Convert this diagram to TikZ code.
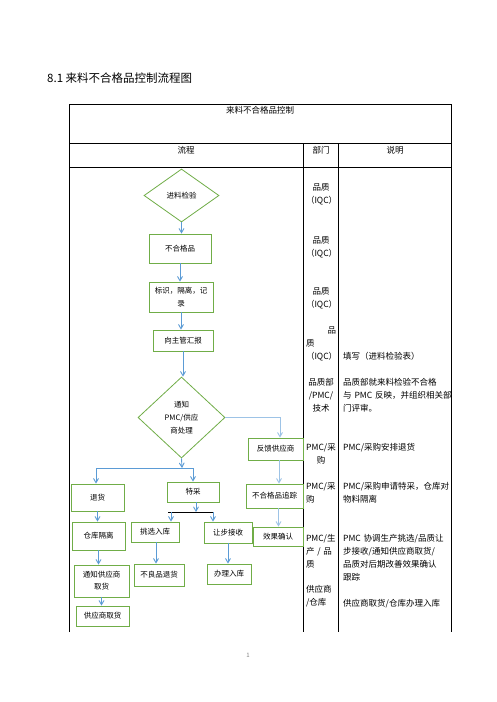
\documentclass[tikz,border=0pt]{standalone}
\usepackage{fontspec}
\setmainfont{Noto Sans CJK SC}
\usetikzlibrary{arrows,shapes.geometric}
\definecolor{boxgreen}{RGB}{112,173,71}
\definecolor{linkblue}{RGB}{91,155,213}
\definecolor{paleblue}{RGB}{157,195,230}

\begin{document}
\begin{tikzpicture}[x=1pt,y=-1pt,->,>=angle 60,
	main node/.style={draw=boxgreen,line width=0.8pt,font=\fontsize{7.5}{12}\selectfont,align=center,inner sep=0pt},
	main diamond/.style={main node,diamond},
	box size/.style 2 args={minimum width=#1,minimum height=#2},
	flow/.style={draw=linkblue,line width=0.9pt},
	cell text/.style={font=\fontsize{8.5}{13}\selectfont,inner sep=0pt},
	table line/.style={-,line width=1pt}]
\fill[white] (0,0) rectangle (496,702);
\useasboundingbox (0,0) rectangle (496,702);
% table
\draw[table line] (69,632) -- (69,104) -- (451,104) -- (451,632);
\draw[table line] (69,143) -- (451,143) (69,167) -- (451,167)
	(303,143) -- (303,632) (338,143) -- (338,632);
\node[font=\fontsize{11.5}{14}\selectfont,anchor=west,inner sep=0pt] (title) at (47,78) {8.1 来料不合格品控制流程图};
\node[cell text] (head) at (260,110) {来料不合格品控制};
\node[cell text] (col1) at (186,150) {流程};
\node[cell text] (col2) at (321,150) {部门};
\node[cell text] (col3) at (395,150) {说明};
% department column
\node[cell text,anchor=north,text width=30pt,align=center] (d1) at (321,182.75) {品质\\（IQC）};
\node[cell text,anchor=north,text width=30pt,align=center] (d2) at (321,235.75) {品质\\（IQC）};
\node[cell text,anchor=north,text width=30pt,align=center] (d3) at (321,286.75) {品质\\（IQC）};
\node[cell text,anchor=north,text width=30pt,align=left] (d4) at (321,326.75) {\hspace*{\fill}品\\质\\（IQC）};
\node[cell text,anchor=north,text width=30pt,align=center] (d5) at (321,377.75) {品质部\\/PMC/\\技术};
\node[cell text,anchor=north,text width=30pt,align=center] (d6) at (321,442.75) {PMC/采\\购};
\node[cell text,anchor=north,text width=30pt,align=left] (d7) at (321,481.75) {PMC/采\\购};
\node[cell text,anchor=north,text width=30pt,align=left] (d8) at (321,533.75) {PMC/生\\产 / 品\\质};
\node[cell text,anchor=north,text width=30pt,align=left] (d9) at (321,584.75) {供应商\\/仓库};
% remarks column
\node[cell text,anchor=north west,text width=110pt,align=left] (n1) at (343,351.75) {填写（进料检验表）};
\node[cell text,anchor=north west,text width=110pt,align=left] (n2) at (343,377.75) {品质部就来料检验不合格\\与 PMC 反映，并组织相关部\\门评审。};
\node[cell text,anchor=north west,text width=110pt,align=left] (n3) at (343,442.75) {PMC/采购安排退货};
\node[cell text,anchor=north west,text width=110pt,align=left] (n4) at (343,481.75) {PMC/采购申请特采，仓库对\\物料隔离};
\node[cell text,anchor=north west,text width=110pt,align=left] (n5) at (343,533.75) {PMC 协调生产挑选/品质让\\步接收/通知供应商取货/\\品质对后期改善效果确认\\跟踪};
\node[cell text,anchor=north west,text width=110pt,align=left] (n6) at (343,598.75) {供应商取货/仓库办理入库};
\node[font=\fontsize{6}{7}\selectfont,text=gray,inner sep=0pt] (page) at (248,655) {1};
% flow chart
\node[main diamond,box size={75pt}{53pt}] (1) at (181.5,195.5) {进料检验};
\node[main node,box size={62pt}{29pt}] (2) at (180,248.5) {不合格品};
\node[main node,box size={64pt}{30pt},font=\fontsize{7.5}{13}\selectfont] (3) at (181,297) {标识，隔离，记\\录};
\node[main node,box size={60pt}{21pt}] (4) at (183,340.5) {向主管汇报};
\node[main diamond,box size={87pt}{81pt},font=\fontsize{7.5}{13}\selectfont] (5) at (181.5,417.5) {通知\\PMC/供应\\商处理};
\node[main node,box size={55pt}{22pt}] (6) at (275.5,449) {反馈供应商};
\node[main node,box size={53pt}{27pt}] (7) at (97.5,497.5) {退货};
\node[main node,box size={52pt}{20pt}] (8) at (193,492) {特采};
\node[main node,box size={57pt}{24pt}] (9) at (274.5,496) {不合格品追踪};
\node[main node,box size={53pt}{28pt}] (10) at (98.5,536) {仓库隔离};
\node[main node,box size={48pt}{20pt}] (11) at (155,532) {挑选入库};
\node[main node,box size={48pt}{21pt}] (12) at (228,532.5) {让步接收};
\node[main node,box size={50pt}{19pt}] (13) at (278,536.5) {效果确认};
\node[main node,box size={55pt}{32pt}] (14) at (101.5,581) {通知供应商\\取货};
\node[main node,box size={50pt}{22pt}] (15) at (159,575) {不良品退货};
\node[main node,box size={44pt}{20pt}] (16) at (229,574) {办理入库};
\node[main node,box size={53pt}{20pt}] (17) at (102.5,616) {供应商取货};
\coordinate (split) at (182,468);
\coordinate (bar left) at (168,512);
\coordinate (bar right) at (213,512);
\path[every edge/.style={flow}]
	(1.south) edge (1.south |- 2.north)
	(2.south) edge (2.south |- 3.north)
	(3.south) edge (3.south |- 4.north)
	(4.south) edge (4.south |- 5.north)
	(5.south) edge (split)
	(7.south) edge (7.south |- 10.north)
	(10.south) edge (10.south |- 14.north)
	(14.south) edge (14.south |- 17.north);
\draw[flow] (split) -| ([xshift=-1.5pt]7.north);
\draw[flow] (split) -| (8.north);
\draw[flow,draw=paleblue] (5.east) -| ([xshift=4.5pt]6.north);
\draw[flow,draw=paleblue] ([xshift=3.5pt]6.south) -- ([xshift=3.5pt]6.south |- 9.north);
\draw[flow,draw=paleblue] ([xshift=4pt]9.south) -- ([xshift=4pt]9.south |- 13.north);
\draw[flow] ([xshift=3pt]8.south) -- ([xshift=3pt]8.south |- bar left);
\draw[table line] (bar left) -- (bar right);
\draw[flow] ([xshift=3pt]bar left) -- ([xshift=3pt]bar left |- 11.north);
\draw[flow] (bar right) -- (bar right |- 12.north);
\draw[flow] ([xshift=1pt]11.south) -- ([xshift=1pt]11.south |- 15.north);
\draw[flow] (12.south) -- (12.south |- 16.north);
\end{tikzpicture}
\end{document}
